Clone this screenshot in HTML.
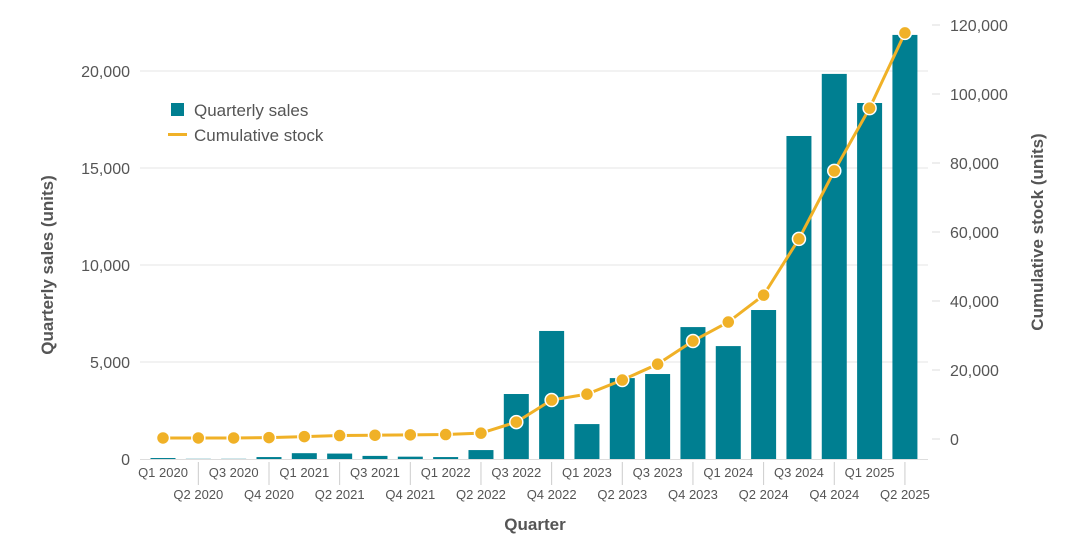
<!DOCTYPE html>
<html><head><meta charset="utf-8"><style>
body{margin:0;background:#fff;width:1080px;height:542px;overflow:hidden}
svg{font-family:"Liberation Sans",sans-serif}
</style></head><body>
<svg id="chart" width="1080" height="542"></svg>
<script>
const categories=["Q1 2020","Q2 2020","Q3 2020","Q4 2020","Q1 2021","Q2 2021","Q3 2021","Q4 2021","Q1 2022","Q2 2022","Q3 2022","Q4 2022","Q1 2023","Q2 2023","Q3 2023","Q4 2023","Q1 2024","Q2 2024","Q3 2024","Q4 2024","Q1 2025","Q2 2025"];
const salesValues=[50,10,10,100,300,280,160,120,100,460,3350,6600,1800,4170,4380,6800,5820,7680,16650,19850,18350,21860];
const stockValues=[300,300,300,400,700,1000,1100,1200,1300,1700,4900,11300,13000,17100,21700,28400,33900,41700,58000,77700,95900,117700];
const leftTicks=[0,5000,10000,15000,20000];
const rightTicks=[0,20000,40000,60000,80000,100000,120000];

const NS="http://www.w3.org/2000/svg";
const svg=document.getElementById('chart');
function mk(tag,attrs,parent){const e=document.createElementNS(NS,tag);for(const k in attrs)e.setAttribute(k,attrs[k]);(parent||svg).appendChild(e);return e;}
const x0=163,step=35.33;
const xScale=i=>x0+i*step;
const yL=v=>459-v*0.0194;
const yR=v=>439-v*0.00345;
const fmt=v=>v.toLocaleString('en-US');

leftTicks.forEach(t=>{
  if(t>0){const g=mk('line',{x1:140,x2:928,y1:yL(t),y2:yL(t),stroke:'#e6e6e6','stroke-width':1});
  
  }
  const l=mk('text',{x:130,y:yL(t)+6,'text-anchor':'end','font-size':16,fill:'#555'});
  l.textContent=fmt(t);
  
  
});
rightTicks.forEach(t=>{
  const m=mk('line',{x1:932,x2:940,y1:yR(t),y2:yR(t),stroke:'#ddd'});
  
  
  const l=mk('text',{x:950,y:yR(t)+6,'font-size':16,fill:'#555'});
  l.textContent=fmt(t);
  
  
});
salesValues.forEach((v,i)=>{
  const b=mk('rect',{x:xScale(i)-12.5,y:yL(v),width:25,height:459-yL(v),fill:'#007f91'});
  
  
});
const base=mk('line',{x1:140,x2:928,y1:459.5,y2:459.5,stroke:'#ddd'});


categories.forEach((c,i)=>{
  const odd=i%2===1;
  if(odd){const s=mk('line',{x1:xScale(i),x2:xScale(i),y1:462,y2:485,stroke:'#ccc'});
  
  }
  const t=mk('text',{x:xScale(i),y:odd?499:477,'text-anchor':'middle','font-size':13,fill:'#555'});
  t.textContent=c;
  
  
});
const pts=stockValues.map((v,i)=>xScale(i)+','+yR(v)).join(' ');
const line=mk('polyline',{points:pts,fill:'none',stroke:'#f0b127','stroke-width':3});


stockValues.forEach((v,i)=>{
  const p=mk('circle',{cx:xScale(i),cy:yR(v),r:6.5,fill:'#f0b127',stroke:'#fff','stroke-width':1.5});
  
  
});
const yt=mk('text',{transform:'translate(53,265) rotate(-90)','text-anchor':'middle','font-size':17,'font-weight':'bold',fill:'#555'});
yt.textContent='Quarterly sales (units)';


const yt2=mk('text',{transform:'translate(1043,232) rotate(-90)','text-anchor':'middle','font-size':17,'font-weight':'bold',fill:'#555'});
yt2.textContent='Cumulative stock (units)';


const xt=mk('text',{x:535,y:530,'text-anchor':'middle','font-size':17,'font-weight':'bold',fill:'#555'});
xt.textContent='Quarter';


const lg=mk('g',{});


const ls=mk('rect',{x:171,y:103,width:13,height:13,fill:'#007f91'},lg);


const lt=mk('text',{x:194,y:116,'font-size':17,fill:'#555'},lg);
lt.textContent='Quarterly sales';


const ll=mk('line',{x1:168,x2:187,y1:134.5,y2:134.5,stroke:'#f0b127','stroke-width':3},lg);


const lt2=mk('text',{x:194,y:141,'font-size':17,fill:'#555'},lg);
lt2.textContent='Cumulative stock';


</script>
</body></html>
